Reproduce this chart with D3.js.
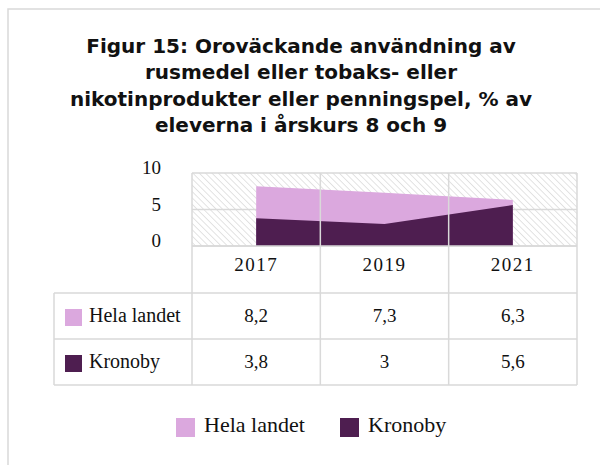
<!DOCTYPE html>
<html><head><meta charset="utf-8">
<script src="https://cdn.jsdelivr.net/npm/d3@7"></script>
<style>
html,body{margin:0;padding:0;background:#fff;}
svg{display:block;}
</style></head>
<body>
<script>
const categories = ["2017", "2019", "2021"];
const helaLandet = [8.2, 7.3, 6.3];
const kronoby = [3.8, 3, 5.6];
const helaLabels = ["8,2", "7,3", "6,3"];
const kronobyLabels = ["3,8", "3", "5,6"];
const yTicks = [0, 5, 10];
const seriesNames = ["Hela landet", "Kronoby"];
const seriesColors = ["#DBA8DE", "#4E1E50"];
const titleLines = ["Figur 15: Oroväckande användning av", "rusmedel eller tobaks- eller", "nikotinprodukter eller penningspel, % av", "eleverna i årskurs 8 och 9"];

const W = 600, H = 465;
const svg = d3.select("body").append("svg").attr("width", W).attr("height", H);
const grid = "#d9d9d9";
const serif = "'Liberation Serif', 'Times New Roman', serif";

// outer border
svg.append("rect").attr("x", 8).attr("y", 9).attr("width", 640).attr("height", 500)
  .attr("fill", "#fff").attr("stroke", grid).attr("stroke-width", 1.5);

// title
const title = svg.append("g").selectAll("text").data(titleLines).join("text")
  .attr("x", 301).attr("y", (d, i) => 53 + i * 26.3)
  .attr("text-anchor", "middle")
  .style("font-family", "'DejaVu Sans', Verdana, sans-serif")
  .style("font-weight", 700).style("font-size", "18px").attr("fill", "#111")
  .text(d => d);
// fit the widest line to the reference width
const widest = d3.max(title.nodes(), n => n.getComputedTextLength());
const fs = 18 * 466 / widest;
title.style("font-size", Math.min(fs, 20) + "px");

const x0 = 192, x1 = 577;
const x = d3.scaleBand().domain(categories).range([x0, x1]).padding(0);
const y = d3.scaleLinear().domain([0, 10]).range([246, 173]);
const cx = d => x(d) + x.bandwidth() / 2;

// hatch pattern
const defs = svg.append("defs");
const pat = defs.append("pattern").attr("id", "hatch").attr("patternUnits", "userSpaceOnUse")
  .attr("width", 4.5).attr("height", 4.5).attr("patternTransform", "rotate(-45)");
pat.append("rect").attr("width", 4.5).attr("height", 4.5).attr("fill", "#fff");
pat.append("line").attr("x1", 0).attr("y1", 0).attr("x2", 0).attr("y2", 4.5)
  .attr("stroke", "#e0e0e0").attr("stroke-width", 1.8);

svg.append("rect").attr("x", x0).attr("y", y(10)).attr("width", x1 - x0).attr("height", y(0) - y(10))
  .attr("fill", "url(#hatch)");

// gridlines
svg.append("g").selectAll("line").data(yTicks).join("line")
  .attr("x1", x0).attr("x2", x1).attr("y1", d => y(d)).attr("y2", d => y(d))
  .attr("stroke", grid).attr("stroke-width", 1.5);

// areas
const area = d3.area().x((d, i) => cx(categories[i])).y0(y(0)).y1(d => y(d));
svg.append("path").datum(helaLandet).attr("d", area).attr("fill", seriesColors[0]);
svg.append("path").datum(kronoby).attr("d", area).attr("fill", seriesColors[1]);

// y tick labels
svg.append("g").selectAll("text").data(yTicks).join("text")
  .attr("x", 161).attr("y", d => y(d) + 1)
  .attr("text-anchor", "end")
  .style("font-family", serif).style("font-size", "19px").attr("fill", "#111")
  .text(d => d);

// table
const rowTop = [246, 293, 339, 385];
const tl = svg.append("g");
tl.append("line").attr("x1", x0).attr("x2", x1).attr("y1", rowTop[0]).attr("y2", rowTop[0]).attr("stroke", grid).attr("stroke-width", 1.5);
[rowTop[1], rowTop[2], rowTop[3]].forEach(yy => {
  tl.append("line").attr("x1", 54).attr("x2", x1).attr("y1", yy).attr("y2", yy).attr("stroke", grid).attr("stroke-width", 1.5);
});
const vx = categories.map(c => x(c)).concat([x1]);
tl.selectAll("line.v").data(vx).join("line").attr("class", "v")
  .attr("x1", d => d).attr("x2", d => d).attr("y1", y(10)).attr("y2", rowTop[3])
  .attr("stroke", grid).attr("stroke-width", 1.5);
tl.append("line").attr("x1", 54).attr("x2", 54).attr("y1", rowTop[1]).attr("y2", rowTop[3]).attr("stroke", grid).attr("stroke-width", 1.5);

tl.selectAll("text.yr").data(categories).join("text").attr("class", "yr")
  .attr("x", d => cx(d)).attr("y", 271)
  .attr("text-anchor", "middle")
  .style("font-family", serif).style("font-size", "19px").style("letter-spacing", "1.5px").attr("fill", "#111")
  .text(d => d);

const rows = [helaLabels, kronobyLabels];
rows.forEach((labels, r) => {
  const top = rowTop[r + 1], bot = rowTop[r + 2];
  const mid = (top + bot) / 2;
  tl.append("rect").attr("x", 65).attr("y", mid - 7).attr("width", 17).attr("height", 17).attr("fill", seriesColors[r]);
  tl.append("text").attr("x", 89).attr("y", mid + 6)
    .style("font-family", serif).style("font-size", "20px").attr("fill", "#111")
    .text(seriesNames[r]);
  tl.selectAll("text.v" + r).data(labels).join("text").attr("class", "v" + r)
    .attr("x", (d, i) => cx(categories[i])).attr("y", mid + 6)
    .attr("text-anchor", "middle")
    .style("font-family", serif).style("font-size", "19px").attr("fill", "#111")
    .text(d => d);
});

// legend
const legX = [176, 340];
const lg = svg.append("g");
seriesNames.forEach((n, i) => {
  lg.append("rect").attr("x", legX[i]).attr("y", 418).attr("width", 19).attr("height", 19).attr("fill", seriesColors[i]);
  lg.append("text").attr("x", legX[i] + 28).attr("y", 432)
    .style("font-family", serif).style("font-size", "22px").attr("fill", "#111")
    .text(n);
});
</script>
</body></html>
